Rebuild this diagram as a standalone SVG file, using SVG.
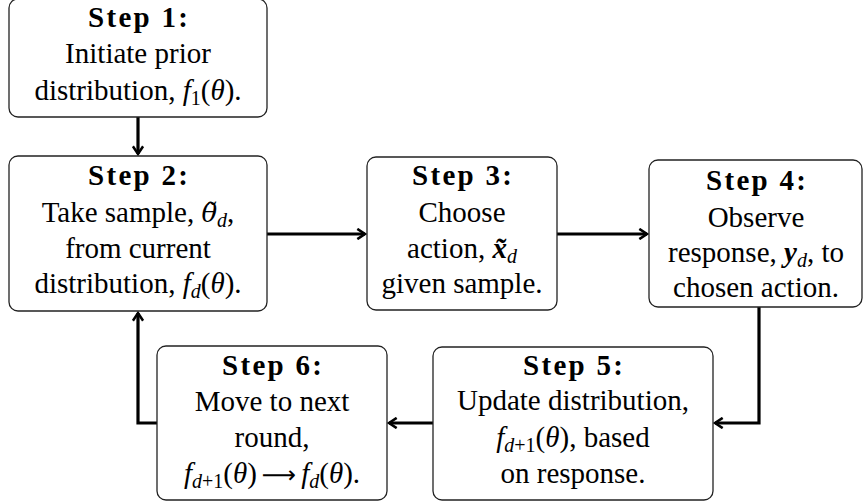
<svg xmlns="http://www.w3.org/2000/svg" width="864" height="503" viewBox="0 0 864 503">
<style>
.box{fill:#fff;stroke:#222;stroke-width:1.3}
text{font-family:"Liberation Serif","DejaVu Serif",serif;font-size:29px;fill:#000;text-anchor:middle}
.h{font-weight:bold}
.i{font-style:italic}
.bi{font-style:italic;font-weight:bold}
.s{font-size:20px}
.dj{font-family:"DejaVu Serif",serif;font-size:26px}
.ar{font-family:"DejaVu Sans",sans-serif;font-size:24px}
.c{fill:none;stroke:#000;stroke-width:3.2}
</style>
<defs>
<marker id="ah" viewBox="0 0 10 10" refX="8" refY="5" markerWidth="4" markerHeight="4" orient="auto" markerUnits="strokeWidth">
<polyline points="2,1 8,5 2,9" fill="none" stroke="#000" stroke-width="2"/>
</marker>
</defs>
<g id="connectors">
<line class="c" x1="138" y1="117" x2="138" y2="154" marker-end="url(#ah)"/>
<line class="c" x1="267" y1="234" x2="365" y2="234" marker-end="url(#ah)"/>
<line class="c" x1="557" y1="234" x2="647" y2="234" marker-end="url(#ah)"/>
<polyline class="c" points="759,307 759,423 715,423" marker-end="url(#ah)"/>
<line class="c" x1="433" y1="423" x2="389" y2="423" marker-end="url(#ah)"/>
<polyline class="c" points="157,423 138,423 138,313" marker-end="url(#ah)"/>
</g>
<g id="step1">
<rect class="box" x="9" y="-1" width="258" height="118" rx="9"/>
<text x="138" y="27" class="h" textLength="100">Step 1:</text>
<text x="138" y="63">Initiate prior</text>
<text x="138" y="100">distribution, <tspan class="i">f</tspan><tspan class="s" dy="5">1</tspan><tspan dy="-5">(</tspan><tspan class="i">θ</tspan>).</text>
</g>
<g id="step2">
<rect class="box" x="9" y="156" width="258" height="155" rx="9"/>
<text x="138" y="185" class="h" textLength="100">Step 2:</text>
<text x="138" y="222">Take sample, <tspan class="i dj">θ̃</tspan><tspan class="s i" dy="5">d</tspan><tspan dy="-5">,</tspan></text>
<text x="138" y="258">from current</text>
<text x="138" y="293">distribution, <tspan class="i">f</tspan><tspan class="s i" dy="5">d</tspan><tspan dy="-5">(</tspan><tspan class="i">θ</tspan>).</text>
</g>
<g id="step3">
<rect class="box" x="367" y="157" width="190" height="153" rx="9"/>
<text x="462" y="185" class="h" textLength="100">Step 3:</text>
<text x="462" y="222">Choose</text>
<text x="462" y="258">action, <tspan class="bi">x̃</tspan><tspan class="s i" dy="5">d</tspan></text>
<text x="462" y="293">given sample.</text>
</g>
<g id="step4">
<rect class="box" x="649" y="160" width="213" height="147" rx="9"/>
<text x="756" y="190" class="h" textLength="100">Step 4:</text>
<text x="756" y="227">Observe</text>
<text x="756" y="262">response, <tspan class="bi">y</tspan><tspan class="s i" dy="5">d</tspan><tspan dy="-5">, to</tspan></text>
<text x="756" y="297">chosen action.</text>
</g>
<g id="step5">
<rect class="box" x="433" y="347" width="280" height="153" rx="9"/>
<text x="573" y="375" class="h" textLength="100">Step 5:</text>
<text x="573" y="410">Update distribution,</text>
<text x="573" y="447"><tspan class="i">f</tspan><tspan class="s" dy="5"><tspan class="i">d</tspan>+1</tspan><tspan dy="-5">(</tspan><tspan class="i">θ</tspan>), based</text>
<text x="573" y="483">on response.</text>
</g>
<g id="step6">
<rect class="box" x="157" y="346" width="230" height="154" rx="9"/>
<text x="272" y="375" class="h" textLength="100">Step 6:</text>
<text x="272" y="411">Move to next</text>
<text x="272" y="447">round,</text>
<text x="272" y="483"><tspan class="i">f</tspan><tspan class="s" dy="5"><tspan class="i">d</tspan>+1</tspan><tspan dy="-5">(</tspan><tspan class="i">θ</tspan>)<tspan class="ar" dx="5">⟶</tspan><tspan class="i" dx="5">f</tspan><tspan class="s i" dy="5">d</tspan><tspan dy="-5">(</tspan><tspan class="i">θ</tspan>).</text>
</g>
</svg>
